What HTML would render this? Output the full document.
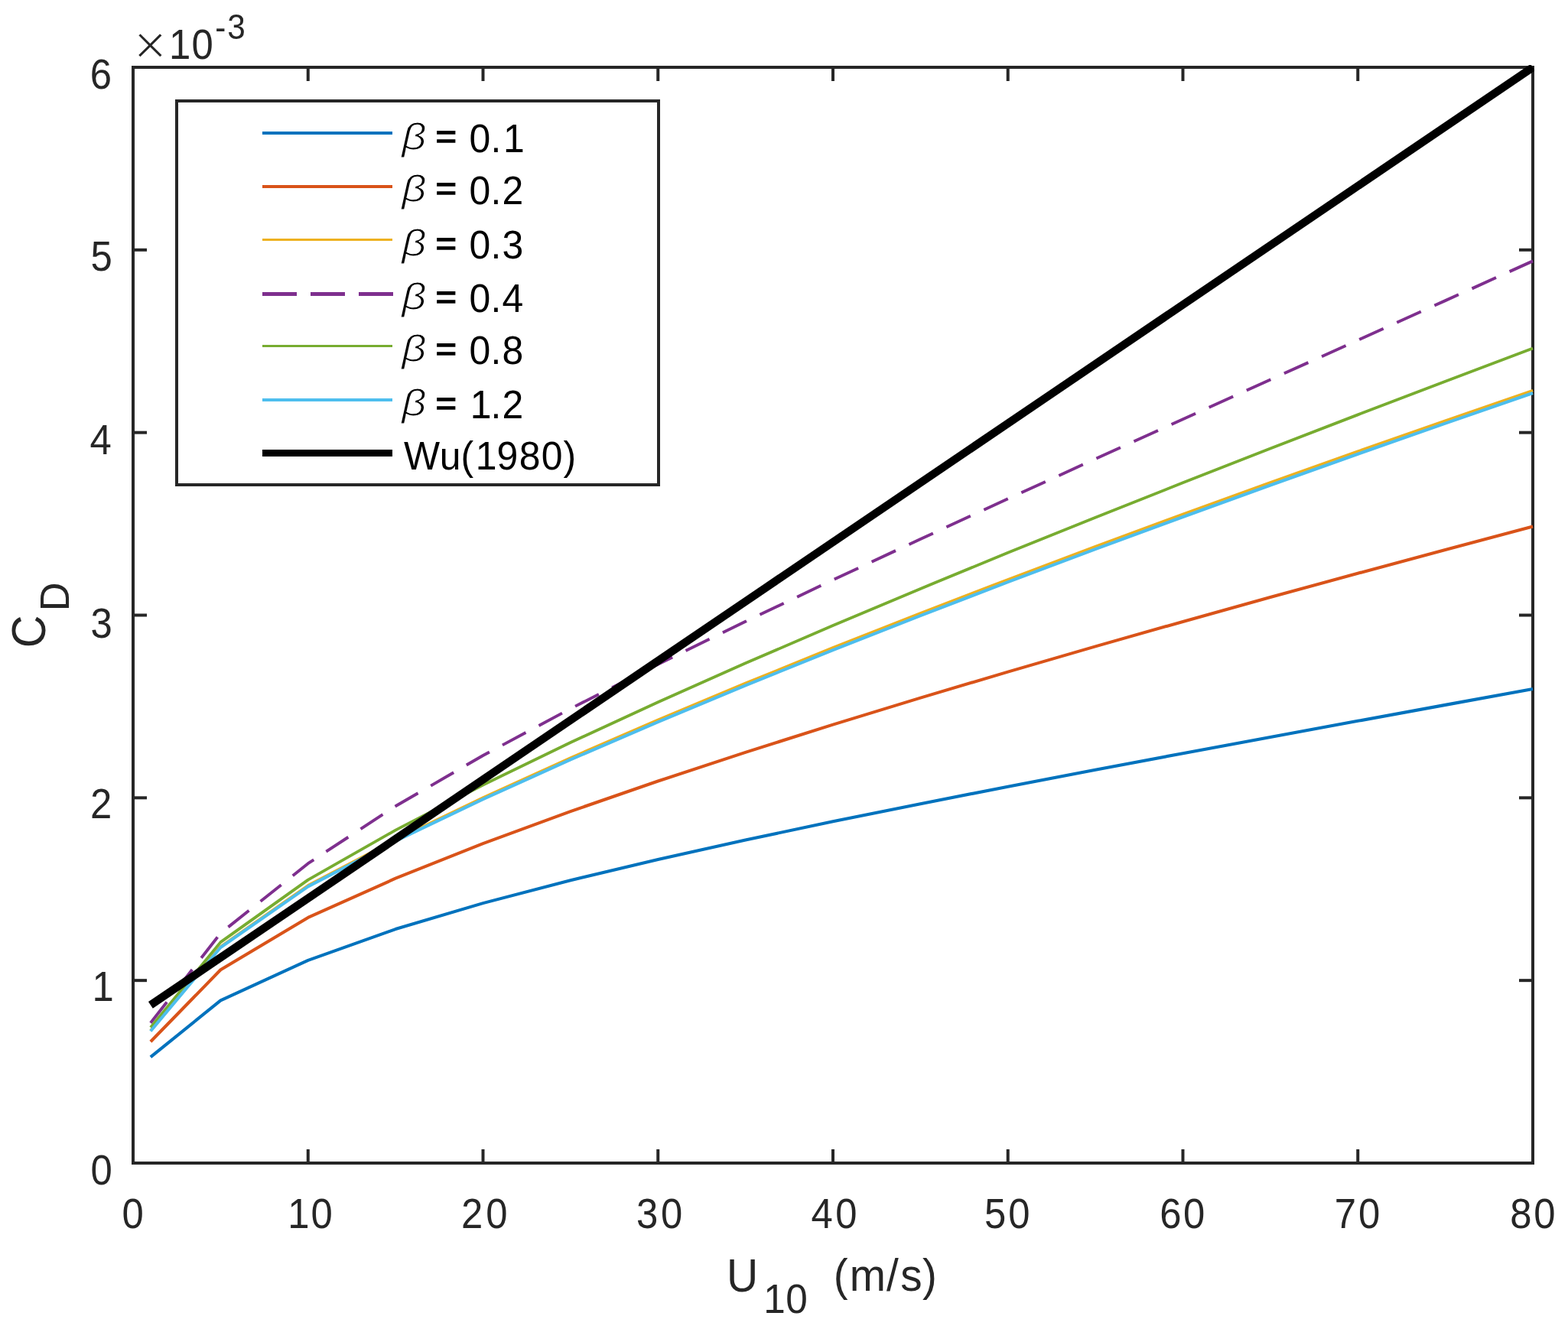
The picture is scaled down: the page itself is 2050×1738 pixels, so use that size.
<!DOCTYPE html>
<html lang="en"><head><meta charset="utf-8"><title>Drag coefficient vs wind speed</title>
<style>html,body{margin:0;padding:0;background:#fff}body{width:2050px;height:1738px;overflow:hidden}svg{display:block}text{font-family:"Liberation Sans","DejaVu Sans",sans-serif}</style>
</head><body>
<svg xmlns="http://www.w3.org/2000/svg" width="2050" height="1738" viewBox="0 0 2050 1738">
<rect x="0" y="0" width="2050" height="1738" fill="#ffffff"/>
<defs><clipPath id="plotclip"><rect x="172" y="85" width="1834" height="1439"/></clipPath></defs>
<g fill="none" stroke="#262626" stroke-width="4" stroke-linecap="butt">
<rect x="174" y="88" width="1830" height="1433"/>
<line x1="402.75" y1="1521" x2="402.75" y2="1503"/>
<line x1="402.75" y1="88" x2="402.75" y2="106"/>
<line x1="631.5" y1="1521" x2="631.5" y2="1503"/>
<line x1="631.5" y1="88" x2="631.5" y2="106"/>
<line x1="860.25" y1="1521" x2="860.25" y2="1503"/>
<line x1="860.25" y1="88" x2="860.25" y2="106"/>
<line x1="1089" y1="1521" x2="1089" y2="1503"/>
<line x1="1089" y1="88" x2="1089" y2="106"/>
<line x1="1317.75" y1="1521" x2="1317.75" y2="1503"/>
<line x1="1317.75" y1="88" x2="1317.75" y2="106"/>
<line x1="1546.5" y1="1521" x2="1546.5" y2="1503"/>
<line x1="1546.5" y1="88" x2="1546.5" y2="106"/>
<line x1="1775.25" y1="1521" x2="1775.25" y2="1503"/>
<line x1="1775.25" y1="88" x2="1775.25" y2="106"/>
<line x1="174" y1="1282.17" x2="192" y2="1282.17"/>
<line x1="2004" y1="1282.17" x2="1986" y2="1282.17"/>
<line x1="174" y1="1043.33" x2="192" y2="1043.33"/>
<line x1="2004" y1="1043.33" x2="1986" y2="1043.33"/>
<line x1="174" y1="804.5" x2="192" y2="804.5"/>
<line x1="2004" y1="804.5" x2="1986" y2="804.5"/>
<line x1="174" y1="565.67" x2="192" y2="565.67"/>
<line x1="2004" y1="565.67" x2="1986" y2="565.67"/>
<line x1="174" y1="326.83" x2="192" y2="326.83"/>
<line x1="2004" y1="326.83" x2="1986" y2="326.83"/>
</g>
<g fill="none" stroke-linejoin="round" stroke-linecap="butt" clip-path="url(#plotclip)">
<polyline points="196.88,1382.3 288.38,1308.4 402.75,1255.82 517.12,1215.06 631.5,1181.12 745.88,1151.22 860.25,1123.95 974.62,1098.5 1089,1074.36 1203.38,1051.18 1317.75,1028.71 1432.12,1006.76 1546.5,985.2 1660.88,963.92 1775.25,942.84 1889.62,921.88 2004,900.99" stroke="#0072BD" stroke-width="4.1"/>
<polyline points="196.88,1362.2 288.38,1268.3 402.75,1199.9 517.12,1148.72 631.5,1103.14 745.88,1061.09 860.25,1021.54 974.62,983.86 1089,947.65 1203.38,912.63 1317.75,878.6 1432.12,845.4 1546.5,812.92 1660.88,781.06 1775.25,749.75 1889.62,718.92 2004,688.52" stroke="#D95319" stroke-width="4.1"/>
<polyline points="196.88,1348 288.38,1238 402.75,1158.04 517.12,1098.28 631.5,1043.17 745.88,991.16 860.25,941.45 974.62,893.55 1089,847.13 1203.38,801.97 1317.75,757.9 1432.12,714.79 1546.5,672.54 1660.88,631.07 1775.25,590.31 1889.62,550.21 2004,510.72" stroke="#EDB120" stroke-width="3.8"/>
<polyline points="196.88,1337.8 288.38,1220.4 402.75,1129.22 517.12,1054.27 631.5,988 745.88,926.75 860.25,868.71 974.62,812.81 1089,758.39 1203.38,705 1317.75,652.32 1432.12,600.11 1546.5,548.22 1660.88,496.49 1775.25,444.83 1889.62,393.14 2004,341.37" stroke="#7E2F8E" stroke-width="3.9" stroke-dasharray="34.6 19.3"/>
<polyline points="196.88,1343.6 288.38,1232.1 402.75,1150.65 517.12,1085.63 631.5,1026.47 745.88,971.02 860.25,918.17 974.62,867.3 1089,817.97 1203.38,769.89 1317.75,722.85 1432.12,676.69 1546.5,631.29 1660.88,586.54 1775.25,542.38 1889.62,498.73 2004,455.53" stroke="#77AC30" stroke-width="3.8"/>
<polyline points="196.88,1348.5 288.38,1239 402.75,1159.31 517.12,1099.92 631.5,1045.16 745.88,993.47 860.25,944.04 974.62,896.37 1089,850.16 1203.38,805.16 1317.75,761.21 1432.12,718.19 1546.5,675.99 1660.88,634.54 1775.25,593.76 1889.62,553.6 2004,514.02" stroke="#4DBEEE" stroke-width="4.1"/>
<polyline points="196.88,1314.41 2004,88" stroke="#000000" stroke-width="10.4"/>
</g>
<g fill="#262626">
<text transform="translate(159.5,1605.6) scale(0.9160,1)" x="0" font-size="55.52">0</text>
<text transform="translate(376.3,1605.6) scale(0.9160,1)" x="0 32.86" font-size="55.52">10</text>
<text transform="translate(603,1605.6) scale(0.9160,1)" x="0 35.1" font-size="55.52">20</text>
<text transform="translate(832.1,1605.6) scale(0.9160,1)" x="0 34.72" font-size="55.52">30</text>
<text transform="translate(1060.4,1605.6) scale(0.9160,1)" x="0 34.88" font-size="55.52">40</text>
<text transform="translate(1287,1605.6) scale(0.9160,1)" x="0 34.06" font-size="55.52">50</text>
<text transform="translate(1516.2,1605.6) scale(0.9160,1)" x="0 33.57" font-size="55.52">60</text>
<text transform="translate(1744.75,1605.6) scale(0.9160,1)" x="0 34.12" font-size="55.52">70</text>
<text transform="translate(1974.2,1605.6) scale(0.9160,1)" x="0 33.84" font-size="55.52">80</text>
<text transform="translate(118.45,1548.55) scale(0.9160,1)" font-size="55.52">0</text>
<text transform="translate(120.5,1309) scale(0.9160,1)" font-size="55.52">1</text>
<text transform="translate(117.9,1070) scale(0.9160,1)" font-size="55.52">2</text>
<text transform="translate(118.5,833.55) scale(0.9160,1)" font-size="55.52">3</text>
<text transform="translate(117.4,594.3) scale(0.9160,1)" font-size="55.52">4</text>
<text transform="translate(118.55,354.4) scale(0.9160,1)" font-size="55.52">5</text>
<text transform="translate(117.7,115.55) scale(0.9160,1)" font-size="55.52">6</text>
<text transform="translate(196.3,83.5) scale(1.0000,1)" font-size="74.75" text-anchor="middle" stroke="#ffffff" stroke-width="2.2">×</text>
<text transform="translate(220.9,77.4) scale(0.9160,1)" x="0 32.42" font-size="55.52">10</text>
<text transform="translate(281.3,51.2) scale(0.9200,1)" x="0 17.28" font-size="45.93"><tspan dy="1">-</tspan><tspan dy="-1">3</tspan></text>
<text transform="translate(949.9,1688.6) scale(0.9220,1)" font-size="61.86">U</text>
<text transform="translate(998.35,1717) scale(0.9530,1)" x="0 30.24" font-size="53.9">10</text>
<text transform="translate(1089.86,1688) scale(0.9700,1)" x="0 21.64 71.35 89.99 119.84" font-size="58.5">(m/s)</text>
<g transform="translate(58,848) rotate(-90)">
<text transform="translate(0.79,0.5) scale(0.9490,1)" font-size="62.48">C</text>
<text transform="translate(48.82,31.98) scale(0.9710,1)" font-size="53.74">D</text>
</g>
</g>
<rect x="231" y="132" width="630" height="502" fill="#ffffff" stroke="#262626" stroke-width="4"/>
<g fill="none" stroke-linecap="butt">
<line x1="343" y1="174" x2="513" y2="174" stroke="#0072BD" stroke-width="4"/>
<line x1="343" y1="244" x2="513" y2="244" stroke="#D95319" stroke-width="4"/>
<line x1="343" y1="313.5" x2="513" y2="313.5" stroke="#EDB120" stroke-width="3"/>
<line x1="343" y1="384.5" x2="514" y2="384.5" stroke="#7E2F8E" stroke-width="5" stroke-dasharray="45 18"/>
<line x1="343" y1="452.5" x2="513" y2="452.5" stroke="#77AC30" stroke-width="3"/>
<line x1="343" y1="523" x2="513" y2="523" stroke="#4DBEEE" stroke-width="4"/>
<line x1="343" y1="592.5" x2="513" y2="592.5" stroke="#000000" stroke-width="9"/>
</g>
<g fill="#000000">
<text transform="translate(525.3,195.7) scale(1.1100,1)" font-size="50.6" font-style="italic" stroke="#ffffff" stroke-width="1.2">β</text>
<text transform="translate(569.4,194.4) scale(1.0700,1)" font-size="44" stroke="#000000" stroke-width="1.3">=</text>
<text transform="translate(613.62,198.5) scale(0.9740,1)" x="0 28.64 45.5" font-size="51.25">0.1</text>
<text transform="translate(525.3,263.7) scale(1.1100,1)" font-size="50.6" font-style="italic" stroke="#ffffff" stroke-width="1.2">β</text>
<text transform="translate(569.4,262.4) scale(1.0700,1)" font-size="44" stroke="#000000" stroke-width="1.3">=</text>
<text transform="translate(613.62,266.5) scale(0.9740,1)" x="0 28.64 43.94" font-size="51.25">0.2</text>
<text transform="translate(525.3,334.8) scale(1.1100,1)" font-size="50.6" font-style="italic" stroke="#ffffff" stroke-width="1.2">β</text>
<text transform="translate(569.4,333.5) scale(1.0700,1)" font-size="44" stroke="#000000" stroke-width="1.3">=</text>
<text transform="translate(613.62,337.6) scale(0.9740,1)" x="0 28.64 44.1" font-size="51.25">0.3</text>
<text transform="translate(525.3,404.8) scale(1.1100,1)" font-size="50.6" font-style="italic" stroke="#ffffff" stroke-width="1.2">β</text>
<text transform="translate(569.4,403.5) scale(1.0700,1)" font-size="44" stroke="#000000" stroke-width="1.3">=</text>
<text transform="translate(613.62,407.6) scale(0.9740,1)" x="0 28.64 44.11" font-size="51.25">0.4</text>
<text transform="translate(525.3,472.8) scale(1.1100,1)" font-size="50.6" font-style="italic" stroke="#ffffff" stroke-width="1.2">β</text>
<text transform="translate(569.4,471.5) scale(1.0700,1)" font-size="44" stroke="#000000" stroke-width="1.3">=</text>
<text transform="translate(613.62,475.6) scale(0.9740,1)" x="0 28.64 43.94" font-size="51.25">0.8</text>
<text transform="translate(525.3,543.8) scale(1.1100,1)" font-size="50.6" font-style="italic" stroke="#ffffff" stroke-width="1.2">β</text>
<text transform="translate(569.4,542.5) scale(1.0700,1)" font-size="44" stroke="#000000" stroke-width="1.3">=</text>
<text transform="translate(614.64,546.6) scale(0.9740,1)" x="0 27.6 42.9" font-size="51.25">1.2</text>
<text transform="translate(527.9,613.5) scale(0.9740,1)" x="0 48.15 76.69 96.46 124.85 154.83 184.57 214.07" font-size="51.25">Wu(1980)</text>
</g>
</svg>
</body></html>
